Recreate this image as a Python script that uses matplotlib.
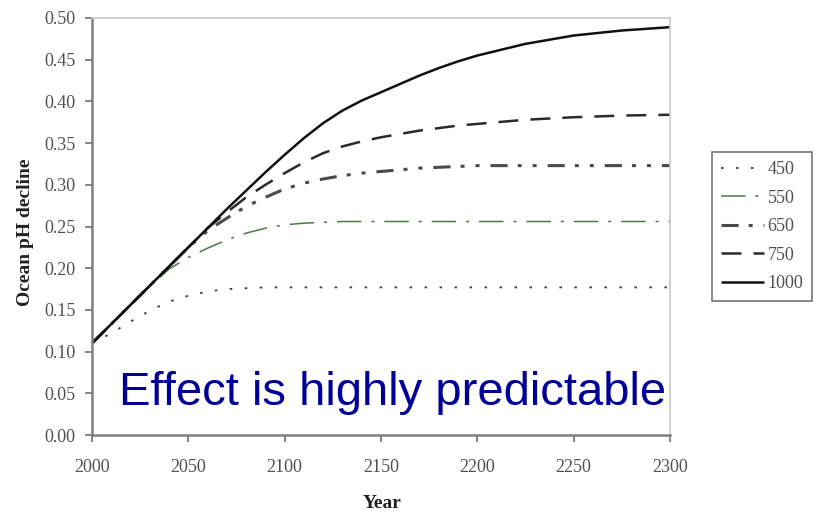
import matplotlib
matplotlib.use("Agg")
import matplotlib.pyplot as plt

# Projected ocean pH decline for different CO2 stabilisation levels (ppm)
years = [2000, 2010, 2020, 2030, 2040, 2050, 2060, 2070, 2080, 2090, 2100,
         2110, 2120, 2130, 2140, 2150, 2160, 2170, 2180, 2190, 2200,
         2225, 2250, 2275, 2300]

ph_450 = [0.110, 0.122, 0.136, 0.149, 0.160, 0.167, 0.172, 0.175, 0.176, 0.177, 0.177,
          0.177, 0.177, 0.177, 0.177, 0.177, 0.177, 0.177, 0.177, 0.177, 0.177,
          0.177, 0.177, 0.177, 0.177]
ph_550 = [0.110, 0.133, 0.156, 0.178, 0.199, 0.213, 0.224, 0.234, 0.242, 0.248, 0.252,
          0.254, 0.255, 0.256, 0.256, 0.256, 0.256, 0.256, 0.256, 0.256, 0.256,
          0.256, 0.256, 0.256, 0.256]
ph_650 = [0.110, 0.133, 0.156, 0.179, 0.202, 0.225, 0.245, 0.260, 0.274, 0.285, 0.295,
          0.302, 0.307, 0.311, 0.314, 0.316, 0.318, 0.320, 0.321, 0.322, 0.323,
          0.323, 0.323, 0.323, 0.323]
ph_750 = [0.110, 0.133, 0.156, 0.179, 0.202, 0.225, 0.248, 0.267, 0.285, 0.300, 0.314,
          0.327, 0.338, 0.346, 0.352, 0.357, 0.361, 0.365, 0.368, 0.371, 0.373,
          0.378, 0.381, 0.383, 0.384]
ph_1000 = [0.110, 0.133, 0.156, 0.179, 0.202, 0.225, 0.248, 0.271, 0.293, 0.315, 0.336,
           0.356, 0.374, 0.389, 0.401, 0.411, 0.421, 0.431, 0.440, 0.448, 0.455,
           0.469, 0.479, 0.485, 0.489]

series_labels = ["450", "550", "650", "750", "1000"]
x_ticks = [2000, 2050, 2100, 2150, 2200, 2250, 2300]
y_ticks = [0.00, 0.05, 0.10, 0.15, 0.20, 0.25, 0.30, 0.35, 0.40, 0.45, 0.50]

serif = ["Liberation Serif", "DejaVu Serif"]
tick_grey = "#505050"

fig = plt.figure(figsize=(8.17, 5.12), dpi=100)
ax = fig.add_axes([92 / 817, 77 / 512, 578 / 817, 417 / 512])

styles = [
    dict(color="#3a3a3a", lw=1.3, linestyle=(0, (1.4, 6.9))),
    dict(color="#4a7a45", lw=1.1, linestyle=(0, (16, 6.5, 2, 6.5))),
    dict(color="#4a4a4a", lw=2.2, linestyle=(0, (5.6, 3.3, 1.3, 3.6, 1.3, 3.6))),
    dict(color="#2a2a2a", lw=1.8, linestyle=(0, (8, 4.8))),
    dict(color="#111111", lw=1.8, linestyle="-"),
]
for values, label, st in zip([ph_450, ph_550, ph_650, ph_750, ph_1000], series_labels, styles):
    ax.plot(years, values, label=label, solid_capstyle="butt", dash_capstyle="butt", **st)

ax.set_xlim(2000, 2300)
ax.set_ylim(0.0, 0.5)
ax.set_xticks(x_ticks)
ax.set_yticks(y_ticks)
ax.set_xticklabels([str(t) for t in x_ticks], family=serif, fontsize=13, color=tick_grey)
ax.set_yticklabels([f"{t:.2f}" for t in y_ticks], family=serif, fontsize=13, color=tick_grey)
ax.tick_params(axis="both", direction="out", length=5, width=1.2, color="#707070")
ax.tick_params(axis="x", pad=12)
ax.tick_params(axis="y", pad=7)

for side in ("left", "bottom"):
    ax.spines[side].set_color("#808080")
    ax.spines[side].set_linewidth(1.8)
for side in ("top", "right"):
    ax.spines[side].set_color("#c8c8c8")
    ax.spines[side].set_linewidth(1.2)

fig.text(382 / 817, 1 - 504 / 512, "Year", family=serif, fontsize=14, fontweight="bold",
         ha="center", va="center", color="#202020")
fig.text(26 / 817, 1 - 232 / 512, "Ocean pH decline", family=serif, fontsize=14,
         fontweight="bold", rotation=90, ha="center", va="center", color="#202020")

ax.text((119 - 92) / 578, (435 - 405) / 417, "Effect is highly predictable",
        transform=ax.transAxes, family=["Liberation Sans", "DejaVu Sans"], fontsize=34,
        color="#000099", ha="left", va="baseline")

leg = fig.legend(loc="upper left", bbox_to_anchor=(712 / 817, 1 - 152 / 512),
                 borderaxespad=0, prop={"family": serif, "size": 13},
                 handlelength=2.4, handletextpad=0.17, labelspacing=0.64,
                 borderpad=0.5, fancybox=False, frameon=True)
leg.get_frame().set_edgecolor("#555555")
leg.get_frame().set_linewidth(1.2)
for t in leg.get_texts():
    t.set_color(tick_grey)

fig.savefig("out.png", dpi=100)
